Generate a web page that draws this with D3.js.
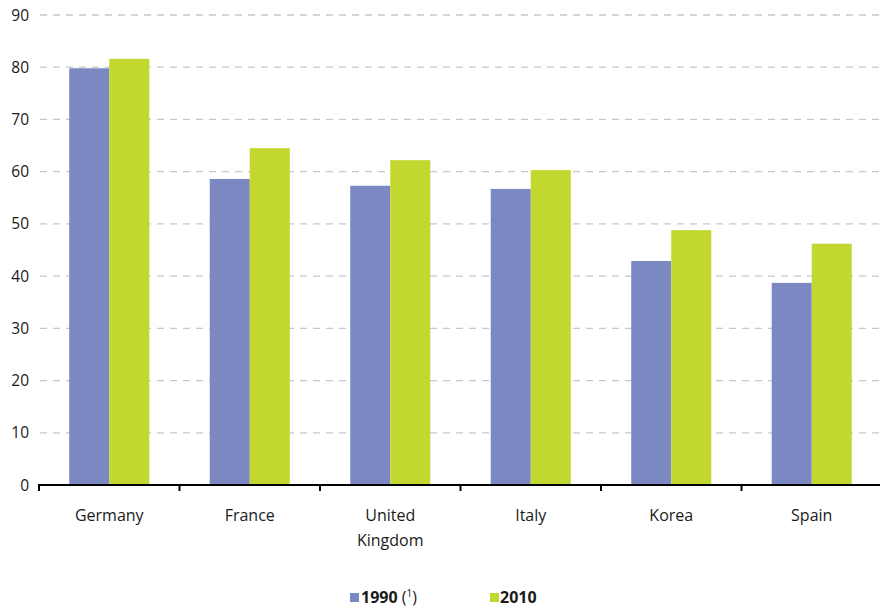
<!DOCTYPE html>
<html><head><meta charset="utf-8">
<script src="https://cdn.jsdelivr.net/npm/d3@7"></script>
<style>body{margin:0;background:#fff}text{font-family:"Open Sans",sans-serif}</style>
</head><body><svg id="c" width="880" height="608"></svg>
<script>
const categories = ["Germany","France","United Kingdom","Italy","Korea","Spain"];
const series = ["1990","2010"];
const v1990 = [79.8, 58.6, 57.3, 56.7, 42.9, 38.7];
const v2010 = [81.6, 64.5, 62.2, 60.3, 48.8, 46.2];
const yTicks = [0,10,20,30,40,50,60,70,80,90];
const colors = ["#7b88c2","#c2d72f"];

const svg = d3.select("#c");
const mLeft = 39, mRight = 882, mTop = 15, mBottom = 485;
const x = d3.scaleBand().domain(categories).range([mLeft,mRight]).paddingInner(0).paddingOuter(0);
const xs = d3.scaleBand().domain(series).range([0,x.bandwidth()]).paddingInner(0).paddingOuter(0.755);
const y = d3.scaleLinear().domain([0,90]).range([mBottom,mTop]);

// grid
svg.append("g").selectAll("line").data(yTicks.filter(d=>d>0)).join("line")
  .attr("x1",mLeft+1).attr("x2",880).attr("y1",d=>y(d)).attr("y2",d=>y(d))
  .attr("stroke","#c8c8c8").attr("stroke-width",1.3).attr("stroke-dasharray","7,6");

// y labels
svg.append("g").selectAll("text").data(yTicks).join("text")
  .attr("x",29).attr("y",d=>y(d)+5.5).attr("text-anchor","end")
  .attr("font-size",15.5).attr("fill","#1a1a1a").text(d=>d);

// bars
const data = categories.map((c,i)=>({c, vals:[v1990[i],v2010[i]]}));
const g = svg.append("g").selectAll("g").data(data).join("g")
  .attr("transform",d=>`translate(${x(d.c)},0)`);
g.selectAll("rect").data(d=>d.vals.map((v,j)=>({s:series[j],v,j}))).join("rect")
  .attr("x",d=>xs(d.s)).attr("width",xs.bandwidth())
  .attr("y",d=>y(d.v)).attr("height",d=>y(0)-y(d.v))
  .attr("fill",d=>colors[d.j]);

// x axis
const xAxis = svg.append("g");
xAxis.append("line").attr("x1",mLeft-1).attr("x2",880).attr("y1",mBottom).attr("y2",mBottom)
  .attr("stroke","#000").attr("stroke-width",2);
const bounds = categories.map(c=>x(c)).concat([x(categories[categories.length-1])+x.bandwidth()]);
xAxis.selectAll("line.t").data(bounds).join("line").attr("class","t")
  .attr("x1",d=>d).attr("x2",d=>d).attr("y1",mBottom).attr("y2",mBottom+6)
  .attr("stroke","#000").attr("stroke-width",2);

// category labels
categories.forEach(c=>{
  const parts = c==="United Kingdom" ? ["United","Kingdom"] : [c];
  parts.forEach((p,i)=>svg.append("text").attr("x",x(c)+x.bandwidth()/2).attr("y",521+i*25)
    .attr("text-anchor","middle").attr("font-size",16).attr("fill","#1a1a1a").text(p));
});

// legend
const leg = svg.append("g");
leg.append("rect").attr("x",350).attr("y",593).attr("width",9).attr("height",9).attr("fill",colors[0]);
const t1 = leg.append("text").attr("x",361).attr("y",603).attr("font-size",16).attr("fill","#1a1a1a");
t1.append("tspan").attr("font-weight","bold").text("1990");
t1.append("tspan").text(" (");
t1.append("tspan").attr("font-size",10).attr("dy",-6).text("1");
t1.append("tspan").attr("dy",6).text(")");
leg.append("rect").attr("x",490).attr("y",593).attr("width",9).attr("height",9).attr("fill",colors[1]);
leg.append("text").attr("x",500).attr("y",603).attr("font-size",16).attr("font-weight","bold").attr("fill","#1a1a1a").text("2010");
</script></body></html>
